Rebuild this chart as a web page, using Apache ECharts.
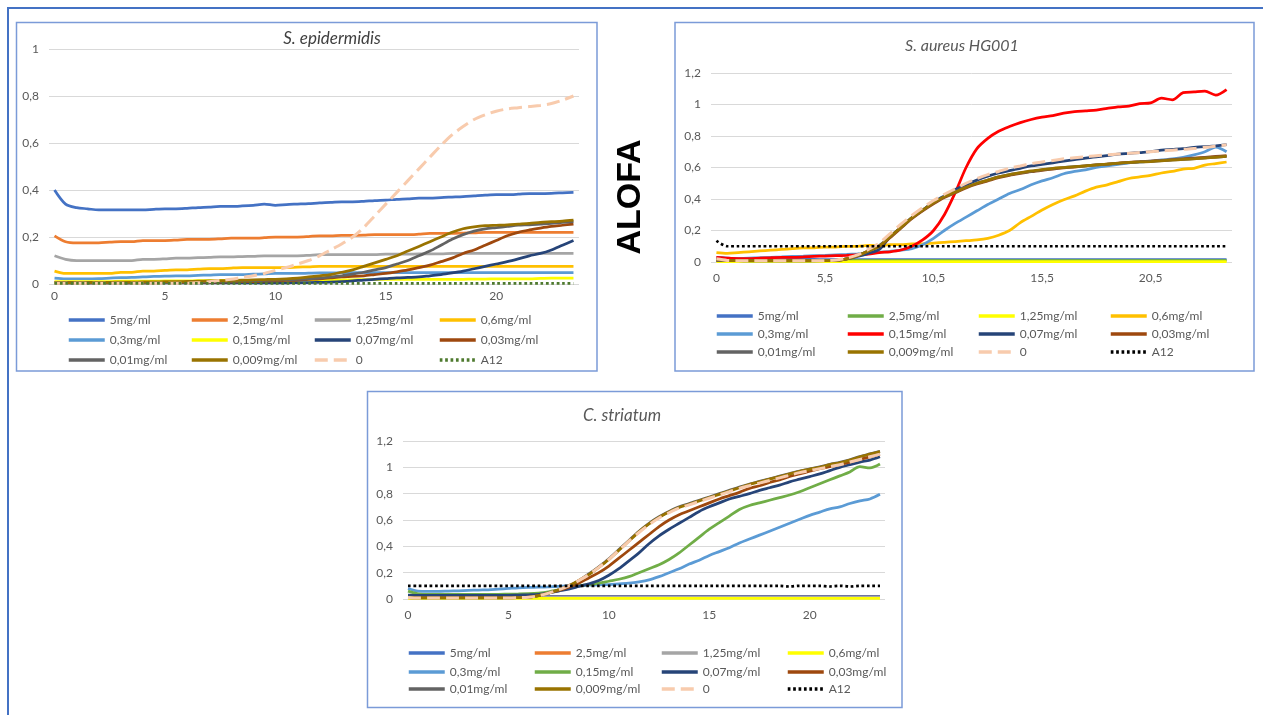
<!DOCTYPE html>
<html>
<head>
<meta charset="utf-8">
<script src="https://cdn.jsdelivr.net/npm/echarts@6/dist/echarts.min.js"></script>
<style>
  html, body { margin: 0; padding: 0; background: #ffffff; }
  #chart { width: 1263px; height: 715px; }
</style>
</head>
<body>
<div id="chart"></div>
<script>
// Concentrations shown in every panel, in legend order
const seriesNames = ['5mg/ml', '2,5mg/ml', '1,25mg/ml', '0,6mg/ml', '0,3mg/ml', '0,15mg/ml',
  '0,07mg/ml', '0,03mg/ml', '0,01mg/ml', '0,009mg/ml', '0', 'A12'];

// Time points (h)
const hoursEpi = [0,0.5,1,1.5,2,2.5,3,3.5,4,4.5,5,5.5,6,6.5,7,7.5,8,8.5,9,9.5,10,10.5,11,11.5,
  12,12.5,13,13.5,14,14.5,15,15.5,16,16.5,17,17.5,18,18.5,19,19.5,20,20.5,21,21.5,22,22.5,23,23.5];
const hoursAur = [0,1,1.5,2,2.5,3,3.5,4,4.5,5,5.5,6,6.5,7,7.5,8,8.5,9,9.5,10,10.5,11,11.5,12,
  12.5,13,13.5,14,14.5,15,15.5,16,16.5,17,17.5,18,18.5,19,19.5,20,20.5,21,21.5,22,22.5,23,23.5,24];
const hoursStr = [0,0.5,1,1.5,2,2.5,3,3.5,4,4.5,5,5.5,6,6.5,7,7.5,8,8.5,9,9.5,10,10.5,11,11.5,
  12,12.5,13,13.5,14,14.5,15,15.5,16,16.5,17,17.5,18,18.5,19,19.5,20,20.5,21,21.5,22,22.5,23,23.5];

// ---- S. epidermidis ----
const epi5 = [0.40,0.34,0.325,0.32,0.315,0.315,0.315,0.315, 0.315,0.318,0.32,0.32,0.322,0.325,0.327,0.33,
  0.33,0.332,0.335,0.34,0.335,0.338,0.34,0.342, 0.345,0.347,0.35,0.35,0.352,0.355,0.357,0.36,
  0.362,0.365,0.365,0.368,0.37,0.372,0.375,0.378, 0.38,0.38,0.382,0.385,0.385,0.386,0.388,0.39];
const epi2_5 = [0.205,0.18,0.175,0.175,0.175,0.178,0.18,0.18, 0.185,0.185,0.185,0.187,0.19,0.19,0.19,0.192,
  0.195,0.195,0.195,0.197,0.2,0.2,0.2,0.202, 0.205,0.205,0.207,0.207,0.208,0.21,0.21,0.21,
  0.21,0.212,0.215,0.215,0.215,0.217,0.218,0.22, 0.22,0.22,0.22,0.22,0.22,0.22,0.22,0.22];
const epi1_25 = [0.12,0.105,0.1,0.1,0.1,0.1,0.1,0.1, 0.105,0.105,0.107,0.11,0.11,0.112,0.113,0.115,
  0.115,0.117,0.118,0.12,0.12,0.12,0.12,0.122, 0.125,0.125,0.125,0.125,0.125,0.125,0.127,0.127,
  0.127,0.128,0.128,0.128,0.13,0.13,0.13,0.13, 0.13,0.13,0.13,0.13,0.13,0.13,0.13,0.13];
const epi0_6 = [0.055,0.045,0.045,0.045,0.045,0.045,0.05,0.05, 0.055,0.055,0.058,0.06,0.06,0.063,0.065,0.065,
  0.068,0.07,0.07,0.07,0.07,0.07,0.072,0.073, 0.075,0.075,0.075,0.075,0.075,0.075,0.075,0.075,
  0.075,0.075,0.075,0.075,0.075,0.075,0.075,0.075, 0.075,0.075,0.075,0.075,0.075,0.075,0.075,0.075];
const epi0_3 = [0.025,0.022,0.022,0.022,0.023,0.025,0.027,0.028, 0.03,0.032,0.033,0.035,0.035,0.037,0.038,0.04,
  0.04,0.04,0.042,0.043,0.045,0.045,0.045,0.046, 0.047,0.047,0.048,0.048,0.048,0.048,0.048,0.048,
  0.048,0.048,0.048,0.048,0.048,0.048,0.048,0.048, 0.048,0.048,0.048,0.048,0.048,0.048,0.048,0.048];
const epi0_15 = [0.01,0.01,0.01,0.01,0.01,0.01,0.012,0.012, 0.012,0.012,0.013,0.013,0.013,0.014,0.014,0.015,
  0.015,0.015,0.015,0.015,0.016,0.016,0.017,0.017, 0.018,0.018,0.018,0.018,0.019,0.019,0.02,0.02,
  0.02,0.02,0.02,0.02,0.02,0.02,0.021,0.021, 0.022,0.022,0.022,0.022,0.024,0.025,0.025,0.025];
const epi0_07 = [0.005,0.005,0.005,0.005,0.005,0.005,0.005,0.005, 0.005,0.005,0.005,0.005,0.005,0.005,0.005,0.005,
  0.005,0.005,0.005,0.005,0.005,0.005,0.006,0.006, 0.007,0.008,0.01,0.013,0.017,0.02,0.023,0.026,
  0.028,0.03,0.035,0.04,0.047,0.055,0.065,0.075, 0.085,0.095,0.107,0.12,0.13,0.145,0.165,0.185];
const epi0_03 = [0.005,0.005,0.005,0.005,0.005,0.005,0.005,0.005, 0.005,0.005,0.006,0.006,0.007,0.007,0.008,0.008,
  0.009,0.01,0.01,0.012,0.013,0.015,0.017,0.02, 0.022,0.026,0.03,0.032,0.035,0.04,0.045,0.052,
  0.06,0.07,0.08,0.095,0.11,0.13,0.145,0.165, 0.185,0.205,0.22,0.23,0.238,0.245,0.25,0.255];
const epi0_01 = [0.005,0.005,0.005,0.005,0.005,0.005,0.005,0.005, 0.005,0.006,0.006,0.007,0.008,0.009,0.01,0.011,
  0.012,0.013,0.014,0.015,0.016,0.018,0.02,0.022, 0.025,0.03,0.035,0.042,0.05,0.06,0.07,0.085,
  0.1,0.12,0.14,0.165,0.19,0.21,0.225,0.235, 0.24,0.245,0.25,0.252,0.255,0.258,0.262,0.265];
const epi0_009 = [0.006,0.006,0.006,0.006,0.007,0.007,0.008,0.008, 0.009,0.009,0.01,0.01,0.011,0.012,0.013,0.014,
  0.015,0.016,0.018,0.019,0.02,0.022,0.025,0.03, 0.035,0.04,0.05,0.06,0.075,0.09,0.105,0.12,
  0.14,0.16,0.18,0.2,0.22,0.235,0.243,0.248, 0.25,0.252,0.255,0.258,0.262,0.265,0.268,0.272];
const epi0 = [0.003,0.003,0.003,0.003,0.003,0.003,0.003,0.003, 0.003,0.003,0.003,0.003,0.003,0.005,0.01,0.015,
  0.02,0.028,0.035,0.045,0.058,0.07,0.085,0.1, 0.12,0.145,0.17,0.2,0.24,0.29,0.34,0.39,
  0.44,0.49,0.54,0.59,0.635,0.67,0.7,0.72, 0.735,0.745,0.75,0.755,0.76,0.768,0.782,0.8];
const epiA12 = [0.003,0.003,0.003,0.003,0.003,0.003,0.003,0.003, 0.003,0.003,0.003,0.003,0.003,0.003,0.003,0.003,
  0.003,0.003,0.003,0.003,0.003,0.003,0.003,0.003, 0.003,0.003,0.003,0.003,0.003,0.003,0.003,0.003,
  0.003,0.003,0.003,0.003,0.003,0.003,0.003,0.003, 0.003,0.003,0.003,0.003,0.003,0.003,0.003,0.003];

// ---- S. aureus HG001 ----
const aur5 = [0.03,0.025,0.02,0.02,0.018,0.018,0.017,0.017, 0.016,0.016,0.015,0.015,0.015,0.015,0.015,0.015,
  0.015,0.015,0.015,0.015,0.015,0.015,0.015,0.015, 0.015,0.015,0.015,0.015,0.015,0.015,0.015,0.015,
  0.015,0.015,0.015,0.015,0.015,0.015,0.015,0.015, 0.015,0.015,0.015,0.015,0.015,0.015,0.015,0.015];
const aur2_5 = [0.01,0.01,0.01,0.01,0.01,0.01,0.01,0.01, 0.01,0.01,0.01,0.01,0.01,0.01,0.01,0.01,
  0.01,0.01,0.01,0.01,0.01,0.01,0.01,0.01, 0.01,0.01,0.01,0.01,0.01,0.01,0.01,0.01,
  0.01,0.01,0.01,0.01,0.01,0.01,0.01,0.01, 0.01,0.01,0.01,0.01,0.01,0.01,0.01,0.01];
const aur1_25 = [0.003,0.003,0.003,0.003,0.003,0.003,0.003,0.003, 0.003,0.003,0.003,0.003,0.003,0.003,0.003,0.003,
  0.003,0.003,0.003,0.003,0.003,0.003,0.003,0.003, 0.003,0.003,0.003,0.003,0.003,0.003,0.003,0.003,
  0.003,0.003,0.003,0.003,0.003,0.003,0.003,0.003, 0.003,0.003,0.003,0.003,0.003,0.003,0.003,0.003];
const aur0_6 = [0.06,0.055,0.06,0.065,0.07,0.075,0.08,0.085, 0.09,0.09,0.095,0.095,0.1,0.1,0.105,0.105,
  0.11,0.11,0.115,0.115,0.12,0.125,0.13,0.135, 0.14,0.15,0.17,0.2,0.25,0.29,0.33,0.365,
  0.395,0.42,0.45,0.475,0.49,0.51,0.53,0.54, 0.55,0.565,0.575,0.59,0.595,0.615,0.625,0.635];
const aur0_3 = [0.02,0.02,0.022,0.025,0.027,0.03,0.032,0.035, 0.037,0.04,0.042,0.045,0.048,0.052,0.057,0.062,
  0.068,0.075,0.085,0.11,0.15,0.2,0.245,0.285, 0.325,0.365,0.4,0.435,0.46,0.49,0.515,0.535,
  0.56,0.575,0.585,0.6,0.61,0.62,0.63,0.635, 0.64,0.648,0.655,0.665,0.68,0.7,0.73,0.7];
const aur0_15 = [0.03,0.025,0.022,0.022,0.025,0.027,0.03,0.03, 0.032,0.035,0.038,0.04,0.042,0.045,0.05,0.06,
  0.065,0.076,0.1,0.14,0.2,0.3,0.44,0.6, 0.72,0.785,0.83,0.86,0.885,0.905,0.92,0.93,
  0.945,0.955,0.96,0.965,0.975,0.985,0.99,1.005, 1.01,1.04,1.03,1.075,1.08,1.085,1.06,1.095];
const aur0_07 = [0.01,0.008,0.008,0.007,0.007,0.007,0.007,0.007, 0.007,0.007,0.008,0.012,0.02,0.035,0.055,0.08,
  0.16,0.22,0.28,0.33,0.38,0.42,0.46,0.49, 0.52,0.545,0.565,0.58,0.595,0.61,0.62,0.63,
  0.64,0.65,0.66,0.668,0.675,0.685,0.69,0.695, 0.7,0.71,0.715,0.72,0.728,0.732,0.738,0.745];
const aur0_03 = [0.012,0.008,0.008,0.008,0.008,0.008,0.008,0.008, 0.008,0.008,0.008,0.01,0.02,0.04,0.07,0.1,
  0.155,0.215,0.275,0.325,0.37,0.41,0.44,0.47, 0.495,0.515,0.535,0.55,0.562,0.573,0.582,0.59,
  0.597,0.603,0.61,0.616,0.622,0.628,0.633,0.637, 0.641,0.645,0.65,0.655,0.66,0.665,0.67,0.675];
const aur0_01 = [0.012,0.008,0.008,0.008,0.008,0.008,0.008,0.008, 0.008,0.008,0.008,0.01,0.02,0.04,0.07,0.105,
  0.16,0.22,0.28,0.33,0.375,0.415,0.445,0.475, 0.5,0.52,0.54,0.555,0.566,0.576,0.585,0.593,
  0.6,0.605,0.61,0.616,0.621,0.626,0.631,0.635, 0.639,0.643,0.648,0.652,0.656,0.661,0.666,0.67];
const aur0_009 = [0.015,0.01,0.008,0.008,0.008,0.008,0.008,0.008, 0.008,0.008,0.008,0.01,0.02,0.04,0.07,0.1,
  0.16,0.22,0.28,0.33,0.375,0.415,0.445,0.475, 0.5,0.52,0.54,0.555,0.567,0.578,0.587,0.595,
  0.6,0.605,0.61,0.617,0.622,0.627,0.632,0.635, 0.638,0.642,0.647,0.651,0.655,0.66,0.665,0.67];
const aur0 = [0.02,0.01,0.008,0.008,0.008,0.008,0.008,0.008, 0.008,0.008,0.008,0.012,0.025,0.045,0.08,0.12,
  0.18,0.24,0.295,0.345,0.39,0.43,0.465,0.5, 0.53,0.555,0.575,0.595,0.61,0.625,0.635,0.645,
  0.655,0.662,0.668,0.675,0.68,0.685,0.69,0.695, 0.7,0.705,0.71,0.715,0.72,0.728,0.735,0.745];
const aurA12 = [0.135,0.1,0.1,0.1,0.1,0.1,0.1,0.1, 0.1,0.1,0.1,0.1,0.1,0.1,0.1,0.1,
  0.1,0.1,0.1,0.1,0.1,0.1,0.1,0.1, 0.1,0.1,0.1,0.1,0.1,0.1,0.1,0.1,
  0.1,0.1,0.1,0.1,0.1,0.1,0.1,0.1, 0.1,0.1,0.1,0.1,0.1,0.1,0.1,0.1];

// ---- C. striatum ----
const str5 = [0.025,0.022,0.02,0.02,0.02,0.02,0.02,0.02, 0.02,0.02,0.02,0.02,0.02,0.02,0.02,0.02,
  0.02,0.02,0.02,0.02,0.02,0.02,0.02,0.02, 0.02,0.02,0.02,0.02,0.02,0.02,0.02,0.02,
  0.02,0.02,0.02,0.02,0.02,0.02,0.02,0.02, 0.02,0.02,0.02,0.02,0.02,0.02,0.02,0.02];
const str2_5 = [0.015,0.015,0.015,0.015,0.015,0.015,0.015,0.015, 0.015,0.015,0.015,0.015,0.015,0.015,0.015,0.015,
  0.015,0.015,0.015,0.015,0.015,0.015,0.015,0.015, 0.015,0.015,0.015,0.015,0.015,0.015,0.015,0.015,
  0.015,0.015,0.015,0.015,0.015,0.015,0.015,0.015, 0.015,0.015,0.015,0.015,0.015,0.015,0.015,0.015];
const str1_25 = [0.012,0.012,0.012,0.012,0.012,0.012,0.012,0.012, 0.012,0.012,0.012,0.012,0.012,0.012,0.012,0.012,
  0.012,0.012,0.012,0.012,0.012,0.012,0.012,0.012, 0.012,0.012,0.012,0.012,0.012,0.012,0.012,0.012,
  0.012,0.012,0.012,0.012,0.012,0.012,0.012,0.012, 0.012,0.012,0.012,0.012,0.012,0.012,0.012,0.012];
const str0_6 = [0.005,0.005,0.005,0.005,0.005,0.005,0.005,0.005, 0.005,0.005,0.005,0.005,0.005,0.005,0.005,0.005,
  0.005,0.005,0.005,0.005,0.005,0.005,0.005,0.005, 0.005,0.005,0.005,0.005,0.005,0.005,0.005,0.005,
  0.005,0.005,0.005,0.005,0.005,0.005,0.005,0.005, 0.005,0.005,0.005,0.005,0.005,0.005,0.005,0.005];
const str0_3 = [0.08,0.06,0.058,0.058,0.06,0.062,0.065,0.068, 0.07,0.075,0.08,0.085,0.088,0.09,0.092,0.095,
  0.1,0.1,0.105,0.108,0.11,0.115,0.12,0.13, 0.145,0.17,0.2,0.23,0.265,0.295,0.33,0.36,
  0.39,0.425,0.455,0.485,0.515,0.545,0.575,0.605, 0.635,0.66,0.685,0.7,0.725,0.745,0.76,0.795];
const str0_15 = [0.06,0.04,0.035,0.035,0.035,0.035,0.035,0.035, 0.035,0.035,0.037,0.038,0.04,0.045,0.055,0.07,
  0.085,0.1,0.11,0.12,0.135,0.15,0.17,0.2, 0.23,0.26,0.3,0.35,0.41,0.47,0.53,0.58,
  0.63,0.68,0.71,0.73,0.75,0.77,0.79,0.815, 0.845,0.875,0.905,0.935,0.965,1.005,0.995,1.025];
const str0_07 = [0.03,0.028,0.028,0.028,0.028,0.028,0.028,0.028, 0.028,0.028,0.028,0.03,0.032,0.035,0.045,0.06,
  0.075,0.095,0.115,0.14,0.18,0.23,0.29,0.35, 0.42,0.48,0.53,0.575,0.62,0.665,0.7,0.73,
  0.76,0.78,0.8,0.825,0.845,0.865,0.89,0.91, 0.93,0.95,0.975,1.0,1.02,1.04,1.055,1.08];
const str0_03 = [0.012,0.01,0.01,0.01,0.01,0.01,0.01,0.01, 0.01,0.01,0.01,0.012,0.015,0.025,0.045,0.065,
  0.09,0.12,0.16,0.2,0.25,0.31,0.37,0.43, 0.49,0.55,0.6,0.64,0.67,0.7,0.73,0.76,
  0.785,0.81,0.84,0.86,0.885,0.905,0.93,0.95, 0.97,0.99,1.005,1.02,1.04,1.06,1.08,1.1];
const str0_01 = [0.01,0.008,0.008,0.008,0.008,0.008,0.008,0.008, 0.008,0.008,0.008,0.01,0.013,0.025,0.045,0.07,
  0.1,0.14,0.19,0.245,0.305,0.375,0.445,0.515, 0.575,0.625,0.665,0.7,0.725,0.75,0.775,0.8,
  0.825,0.85,0.872,0.893,0.913,0.933,0.952,0.972, 0.988,1.003,1.022,1.038,1.058,1.082,1.102,1.122];
const str0_009 = [0.01,0.008,0.008,0.008,0.008,0.008,0.008,0.008, 0.008,0.008,0.008,0.01,0.013,0.025,0.045,0.07,
  0.1,0.14,0.185,0.24,0.3,0.37,0.44,0.51, 0.57,0.62,0.66,0.695,0.72,0.745,0.77,0.795,
  0.82,0.845,0.87,0.89,0.91,0.93,0.95,0.97, 0.985,1.0,1.02,1.035,1.055,1.08,1.1,1.12];
const str0 = [0.012,0.008,0.008,0.008,0.008,0.008,0.008,0.008, 0.008,0.008,0.008,0.01,0.013,0.025,0.045,0.07,
  0.1,0.14,0.185,0.24,0.3,0.37,0.44,0.505, 0.565,0.615,0.655,0.69,0.715,0.74,0.765,0.79,
  0.815,0.84,0.86,0.88,0.9,0.92,0.94,0.96, 0.975,0.99,1.005,1.02,1.04,1.06,1.08,1.1];
const strA12 = [0.1,0.1,0.1,0.1,0.1,0.1,0.1,0.1, 0.1,0.1,0.1,0.1,0.1,0.1,0.1,0.1,
  0.1,0.1,0.1,0.1,0.1,0.1,0.1,0.1, 0.1,0.1,0.1,0.1,0.1,0.1,0.1,0.1,
  0.1,0.1,0.1,0.1,0.1,0.1,0.095,0.1, 0.1,0.1,0.095,0.1,0.095,0.1,0.1,0.1];

const FONT = 'Lato, "Liberation Sans", sans-serif';
const TEXT_GREY = '#595959';

const panels = [
  {
    title: 'S. epidermidis', hours: hoursEpi,
    values: [epi5, epi2_5, epi1_25, epi0_6, epi0_3, epi0_15, epi0_07, epi0_03, epi0_01, epi0_009, epi0, epiA12],
    colors: ['#4472C4','#ED7D31','#A5A5A5','#FFC000','#5B9BD5','#FFFF00','#264478','#9E480E','#636363','#997300','#F8CBAD','#4E7A2E'],
    grid: { left: 49, top: 49, width: 530, height: 235 }, yMax: 1, xLabelMargin: 6,
    titlePos: [332, 39], titleSize: 17, titleColor: '#404040',
    legendCols: [67, 190, 313, 438], legendRows: [320, 340, 360]
  },
  {
    title: 'S. aureus HG001', hours: hoursAur,
    values: [aur5, aur2_5, aur1_25, aur0_6, aur0_3, aur0_15, aur0_07, aur0_03, aur0_01, aur0_009, aur0, aurA12],
    colors: ['#4472C4','#70AD47','#FFFF00','#FFC000','#5B9BD5','#FF0000','#264478','#9E480E','#636363','#997300','#F8CBAD','#000000'],
    grid: { left: 711, top: 73, width: 521, height: 189 }, yMax: 1.2, xLabelMargin: 10,
    titlePos: [962, 46], titleSize: 16, titleColor: TEXT_GREY,
    legendCols: [715, 846, 977, 1109], legendRows: [316, 334, 352]
  },
  {
    title: 'C. striatum', hours: hoursStr,
    values: [str5, str2_5, str1_25, str0_6, str0_3, str0_15, str0_07, str0_03, str0_01, str0_009, str0, strA12],
    colors: ['#4472C4','#ED7D31','#A5A5A5','#FFFF00','#5B9BD5','#70AD47','#264478','#9E480E','#636363','#997300','#F8CBAD','#000000'],
    grid: { left: 403, top: 441, width: 482, height: 158 }, yMax: 1.2, xLabelMargin: 10,
    titlePos: [622, 416], titleSize: 17, titleColor: TEXT_GREY,
    legendCols: [407, 533, 660, 786], legendRows: [653, 672, 689]
  }
];

const decimalComma = v => String(v).replace('.', ',');

const grids = [], xAxes = [], yAxes = [], series = [], legends = [];

panels.forEach((p, k) => {
  grids.push(Object.assign({ containLabel: false }, p.grid));
  xAxes.push({
    type: 'category', gridIndex: k, data: p.hours.map(decimalComma), boundaryGap: true,
    axisLine: { show: false }, axisTick: { show: false },
    axisLabel: { interval: 9, color: TEXT_GREY, fontSize: 12, fontFamily: FONT, margin: p.xLabelMargin }
  });
  yAxes.push({
    type: 'value', gridIndex: k, min: 0, max: p.yMax, interval: 0.2,
    axisLine: { show: false }, axisTick: { show: false },
    axisLabel: { color: TEXT_GREY, fontSize: 12, fontFamily: FONT, margin: 10,
      formatter: v => decimalComma(+v.toFixed(1)) },
    splitLine: { lineStyle: { color: '#D9D9D9', width: 1 } }
  });
  p.values.forEach((vals, j) => {
    const name = p.title + '|' + seriesNames[j];
    let lineType = 'solid', width = 2.75;
    if (j === 10) { lineType = [13, 6]; width = 3; }
    if (j === 11) { lineType = [2.7, 2.7]; width = 2.7; }
    series.push({
      type: 'line', name, xAxisIndex: k, yAxisIndex: k, data: vals,
      symbol: 'none', smooth: 0.3, color: p.colors[j],
      lineStyle: { color: p.colors[j], width, type: lineType },
      emphasis: { disabled: true }
    });
    // one legend entry per slot so the 4-column layout lines up
    legends.push({
      data: [name], left: p.legendCols[j % 4], top: p.legendRows[Math.floor(j / 4)] - 6,
      padding: 0, itemWidth: 36, itemHeight: 12, itemGap: 0,
      formatter: n => n.split('|')[1],
      textStyle: { color: TEXT_GREY, fontSize: 12, fontFamily: FONT },
      itemStyle: { opacity: 0, borderWidth: 0 },
      lineStyle: { width: 3.5 }
    });
  });
});

const boxStyle = { stroke: '#7B9BD8', lineWidth: 1.5, fill: null };
const graphics = [
  { type: 'polyline', shape: { points: [[8, 715], [8, 8], [1263, 8]] },
    style: { stroke: '#4472C4', lineWidth: 2, fill: null } },
  { type: 'rect', shape: { x: 16.5, y: 22.5, width: 580.5, height: 348.5 }, style: boxStyle },
  { type: 'rect', shape: { x: 675, y: 22.5, width: 579, height: 348.5 }, style: boxStyle },
  { type: 'rect', shape: { x: 367.5, y: 391.5, width: 534.5, height: 316 }, style: boxStyle },
  { type: 'text', x: 631, y: 197, rotation: Math.PI / 2,
    style: { text: 'ALOFA', font: 'bold 34px "Liberation Sans", Arial, sans-serif', fill: '#000000',
      align: 'center', verticalAlign: 'middle', textAlign: 'center', textVerticalAlign: 'middle' } }
];
panels.forEach(p => {
  graphics.push({
    type: 'text', x: p.titlePos[0], y: p.titlePos[1],
    style: { text: p.title, font: 'italic ' + p.titleSize + 'px ' + FONT, fill: p.titleColor,
      align: 'center', verticalAlign: 'middle', textAlign: 'center', textVerticalAlign: 'middle' }
  });
});

const chart = echarts.init(document.getElementById('chart'), null, { renderer: 'canvas' });
chart.setOption({
  animation: false,
  backgroundColor: '#ffffff',
  grid: grids,
  xAxis: xAxes,
  yAxis: yAxes,
  legend: legends,
  series: series,
  graphic: graphics
});
</script>
</body>
</html>
